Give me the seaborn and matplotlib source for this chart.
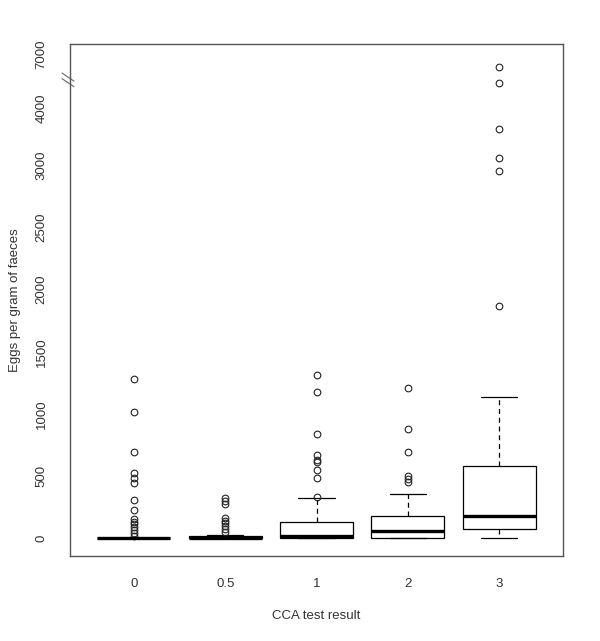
import numpy as np
import pandas as pd
import seaborn as sns
import matplotlib
matplotlib.use("Agg")
import matplotlib.pyplot as plt
import matplotlib.transforms as mtransforms

# values (eggs per gram), one list per CCA group
cca_labels = ["0", "0.5", "1", "2", "3"]

epg_0 = [0] * 60 + [18, 38, 64, 91, 112, 131, 150, 227, 305, 441, 487, 522, 693, 1014, 1279]
epg_05 = [0] * 28 + [8, 12, 16, 24, 45, 70, 100, 120, 140, 160, 275, 300, 325]
epg_1 = [0] * 11 + [2, 4, 5, 6, 8, 10, 12, 13, 15, 16,
                    20, 25, 30, 40, 50, 60, 75, 90, 110, 130, 320,
                    333, 482, 548, 610, 632, 666, 835, 1177, 1314]
epg_2 = [0] * 11 + [5, 10, 15, 20, 25, 30, 38, 44, 50, 54,
                    60, 70, 80, 95, 105, 120, 135, 150, 165, 174,
                    220, 260, 300, 356,
                    449, 476, 498, 690, 877, 1212]
epg_3 = [0, 10, 20, 30, 45, 55, 65, 70, 85, 100, 120, 140, 155, 168, 177,
         220, 280, 350, 420, 480, 540, 583, 1134,
         1868, 2954, 3126, 3638, 4437, 6782]

# broken y axis: 0-3000 linear, squeezed above, gap between 4500 and 6570
axis_values = [-1000, 3000, 4500, 6570, 8000]
axis_pos = [-1000, 3000, 3698, 3698.5, 4364]
ytick_values = [0, 500, 1000, 1500, 2000, 2500, 3000, 4000, 7000]


def to_pos(v):
    return np.interp(v, axis_values, axis_pos)


groups = [epg_0, epg_05, epg_1, epg_2, epg_3]
df = pd.DataFrame({
    "cca": np.concatenate([[lab] * len(g) for lab, g in zip(cca_labels, groups)]),
    "epg": np.concatenate(groups).astype(float),
})
df["pos"] = to_pos(df["epg"])

sns.set_style("white")
plt.rcParams["font.family"] = ["Liberation Sans", "DejaVu Sans"]

fig = plt.figure(figsize=(6, 6.41), dpi=100)
ax = fig.add_axes([70 / 600, 85 / 641, 493 / 600, 512 / 641])

sns.boxplot(data=df, x="cca", y="pos", order=cca_labels, ax=ax,
            color="white", saturation=1, linecolor="black", linewidth=0.9,
            width=0.8, whis=1.5,
            medianprops=dict(linewidth=2.4, color="black"),
            whiskerprops=dict(linestyle=(0, (4, 3)), color="black"),
            capprops=dict(color="black"),
            flierprops=dict(marker="o", markerfacecolor="none",
                            markeredgecolor="#222222", markersize=4.8,
                            markeredgewidth=0.8))

ax.set_xlim(-0.7, 4.7)
ax.set_ylim(-145, 3979)

ax.set_yticks(to_pos(ytick_values))
ax.set_yticklabels([str(v) for v in ytick_values], rotation=90, va="center")

for side in ["left", "right", "top", "bottom"]:
    ax.spines[side].set_color("#555555")
    ax.spines[side].set_linewidth(1)

ax.tick_params(axis="both", direction="out", length=5, width=0.8,
               colors="#333333", labelsize=9.5, labelcolor="#333333")
ax.tick_params(axis="y", pad=11)
ax.tick_params(axis="x", pad=11)

ax.set_xlabel("CCA test result", fontsize=9.5, color="#333333")
ax.set_ylabel("Eggs per gram of faeces", fontsize=9.5, color="#333333")
ax.xaxis.set_label_coords(0.5, -0.105)
ax.yaxis.set_label_coords(-0.10, 0.5)

# the "\\" break marks on the left axis
trans = mtransforms.blended_transform_factory(ax.transAxes, ax.transData)
for off in [0, 45]:
    ax.plot([-8 / 493, 4 / 493], [3745 - off, 3680 - off], transform=trans,
            color="#666666", linewidth=0.8, clip_on=False)

fig.savefig("out.png", dpi=100)
